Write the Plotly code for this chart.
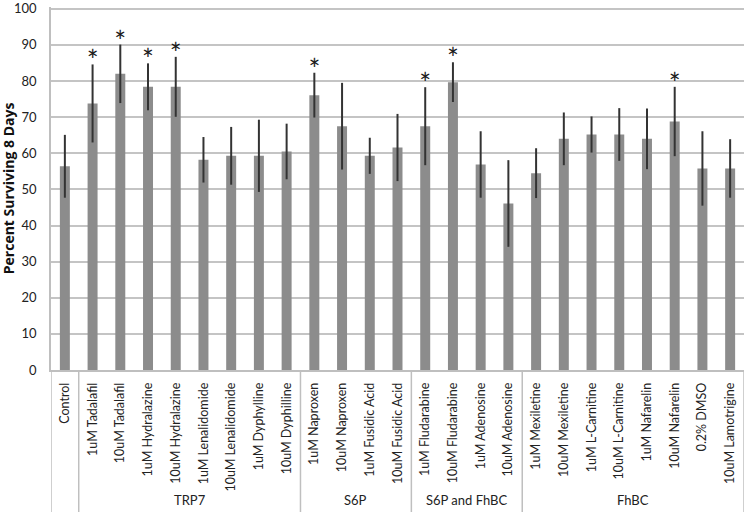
import plotly.graph_objects as go

categories = ["Control", "1uM Tadalafil", "10uM Tadalafil", "1uM Hydralazine", "10uM Hydralazine",
              "1uM Lenalidomide", "10uM Lenalidomide", "1uM Dyphylline", "10uM Dyphilline",
              "1uM Naproxen", "10uM Naproxen", "1uM Fusidic Acid", "10uM Fusidic Acid",
              "1uM Fludarabine", "10uM Fludarabine", "1uM Adenosine", "10uM Adenosine",
              "1uM Mexiletine", "10uM Mexiletine", "1uM L-Carnitine", "10uM L-Carnitine",
              "1uM Nafarelin", "10uM Nafarelin", "0.2% DMSO", "10uM Lamotrigine"]
groups = [""] + ["TRP7"] * 8 + ["S6P"] * 4 + ["S6P and FhBC"] * 4 + ["FhBC"] * 8
values = [56.4, 73.8, 82.0, 78.4, 78.4, 58.2, 59.3, 59.3, 60.5,
          76.1, 67.5, 59.3, 61.6, 67.5, 79.7, 56.9, 46.1,
          54.5, 64.0, 65.2, 65.2, 64.0, 68.8, 55.8, 55.8]
errors = [8.7, 10.8, 8.1, 6.5, 8.3, 6.3, 8.0, 10.0, 7.7,
          6.2, 12.0, 5.0, 9.3, 10.8, 5.5, 9.2, 12.0,
          6.9, 7.3, 5.0, 7.3, 8.4, 9.6, 10.3, 8.1]
significant = [False, True, True, True, True, False, False, False, False,
               True, False, False, False, True, True, False, False,
               False, False, False, False, False, True, False, False]
yticks = [0, 10, 20, 30, 40, 50, 60, 70, 80, 90, 100]

FONT = "Lato"

fig = go.Figure()
fig.add_trace(go.Bar(
    x=categories, y=values, width=0.36,
    marker=dict(color="#8c8c8c", line=dict(width=0)),
    error_y=dict(type="data", array=errors, color="#333333", thickness=2, width=0),
    showlegend=False,
))
star_x = [c for c, s in zip(categories, significant) if s]
star_y = [v + e for v, e, s in zip(values, errors, significant) if s]
fig.add_trace(go.Scatter(
    x=star_x, y=star_y, mode="text", text=["*"] * len(star_x),
    textposition="middle center", textfont=dict(size=28, color="#1a1a1a", family=FONT),
    showlegend=False, hoverinfo="skip",
))

n = len(categories)
bottom = -0.4
# group dividers
bounds = [-0.5]
for i in range(1, n):
    if groups[i] != groups[i - 1]:
        bounds.append(i - 0.5)
bounds.append(n - 0.5)
for b in bounds:
    fig.add_shape(type="line", xref="x", yref="paper", x0=b, x1=b, y0=0, y1=bottom,
                  line=dict(color="#bfbfbf", width=1.5))
# group labels
start = 0
for i in range(1, n + 1):
    if i == n or groups[i] != groups[start]:
        if groups[start]:
            fig.add_annotation(x=(start + i - 1) / 2, xref="x", y=-0.358, yref="paper",
                               text=groups[start], showarrow=False,
                               font=dict(size=13, color="#222222", family=FONT),
                               xanchor="center", yanchor="middle")
        start = i

fig.add_annotation(x=-0.061, xref="paper", y=0.5, yref="paper", text="<b>Percent Surviving 8 Days</b>",
                   textangle=-90, showarrow=False, font=dict(size=14, color="#111111", family="Open Sans"),
                   xanchor="center", yanchor="middle")

fig.update_layout(
    width=746, height=512,
    margin=dict(l=51, r=2, t=7, b=142),
    plot_bgcolor="white", paper_bgcolor="white",
    font=dict(family=FONT, color="#222222"),
    xaxis=dict(type="category", range=[-0.5, n - 0.5], tickangle=-90,
               tickfont=dict(size=12.5, family=FONT, color="#222222"),
               showgrid=False, showline=True, linecolor="#bfbfbf", linewidth=1.5,
               ticks="", ticklabelstandoff=6, automargin=False),
    yaxis=dict(range=[0, 100.5], tickvals=yticks, showgrid=True, gridcolor="#c4c4c4", gridwidth=1.5,
               showline=True, linecolor="#bfbfbf", linewidth=1.5, zeroline=False,
               tickfont=dict(size=13, family=FONT, color="#222222"), ticks="",
               ticklabelstandoff=10, ticklabeloverflow="allow", automargin=False),
)

fig.write_html("out.html", config={"displayModeBar": False},
               post_script="document.body.style.margin='0';document.body.style.padding='0';")
